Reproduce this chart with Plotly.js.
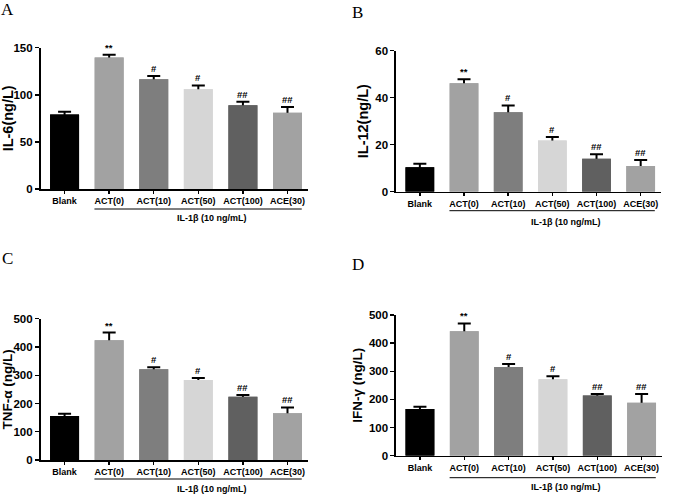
<!DOCTYPE html>
<html>
<head>
<meta charset="utf-8">
<script src="https://cdn.plot.ly/plotly-3.0.1.min.js"></script>
<style>html,body{margin:0;padding:0;background:#fff;}#chart{width:685px;height:494px;}</style>
</head>
<body>
<div id="chart"></div>
<script>
// ---- data ----
const categories = ["Blank", "ACT(0)", "ACT(10)", "ACT(50)", "ACT(100)", "ACE(30)"];
const il6 = [79, 139.5, 116.5, 106, 89, 81];
const il6Err = [3, 3, 3.5, 4, 3.5, 6];
const il12 = [10.4, 46.1, 33.8, 21.8, 14.0, 10.9];
const il12Err = [1.5, 1.8, 2.9, 1.5, 1.9, 2.6];
const tnf = [156, 424, 321, 283, 224, 165];
const tnfErr = [8, 27, 7, 7, 6, 21];
const ifn = [166, 442, 315, 272, 214, 188];
const ifnErr = [8, 28, 11, 10, 5, 31];
const sigLabels = ["", "**", "#", "#", "##", "##"];
const panelLetters = ["A", "B", "C", "D"];
const yTitles = ["IL-6(ng/L)", "IL-12(ng/L)", "TNF-α (ng/L)", "IFN-γ (ng/L)"];
const yMax = [150, 60, 500, 500];
const yDtick = [50, 20, 100, 100];
const groupLabel = "IL-1β (10 ng/mL)";
const unitLabel = "(μM)";

const barColors = ["#000000", "#a2a2a2", "#7e7e7e", "#d6d6d6", "#606060", "#a2a2a2"];
const FONT = "Liberation Sans, Arial, sans-serif";
const bold = t => "<b>" + t + "</b>";

const W = 685, H = 494;
// panel pixel boxes: [left, right, top, bottom]
const boxes = [
  [40.5, 308, 47.7, 189],
  [396, 661, 50.7, 191.7],
  [40.5, 308, 318.7, 460],
  [396, 662, 315, 455.7]
];
const letterPos = [[8, 9], [357, 12], [8, 258], [358, 264]];
const lineOffset = [20, 19, 19, 22];
const textOffset = [29, 30, 29, 31];
const titleSize = [14.5, 14.5, 13.5, 13.5];
const xRange = [-0.54, 5.46];

const series = [[il6, il6Err], [il12, il12Err], [tnf, tnfErr], [ifn, ifnErr]];
const data = [];
const annotations = [];
const shapes = [];
const layout = {
  width: W, height: H,
  margin: {l: 0, r: 0, t: 0, b: 0},
  paper_bgcolor: "#fff", plot_bgcolor: "#fff",
  showlegend: false, barmode: "overlay",
  font: {family: FONT, color: "#000"},
  annotations: annotations,
  shapes: shapes
};

series.forEach((s, i) => {
  const n = i + 1;
  const xa = n === 1 ? "x" : "x" + n;
  const ya = n === 1 ? "y" : "y" + n;
  const xk = n === 1 ? "xaxis" : "xaxis" + n;
  const yk = n === 1 ? "yaxis" : "yaxis" + n;
  const b = boxes[i];
  const idx = categories.map((c, k) => k);
  // bars with symmetric error bars (lower half hidden by the overlaid bar)
  data.push({
    type: "bar", x: idx, y: s[0], xaxis: xa, yaxis: ya,
    width: 0.65, opacity: 1,
    marker: {color: barColors, line: {width: 0}},
    error_y: {type: "data", array: s[1], symmetric: true,
              color: "#000", thickness: 2, width: 6.5},
    hoverinfo: "none"
  });
  data.push({
    type: "bar", x: idx, y: s[0], xaxis: xa, yaxis: ya,
    width: 0.65, opacity: 1,
    marker: {color: barColors, line: {width: 0}},
    hoverinfo: "none"
  });
  const yt = [];
  for (let v = 0; v <= yMax[i]; v += yDtick[i]) yt.push(v);
  layout[xk] = {
    domain: [b[0] / W, b[1] / W], anchor: ya,
    range: xRange, tickmode: "array", tickvals: idx, ticktext: categories.map(bold),
    showline: true, linecolor: "#000", linewidth: 1.6,
    ticks: "outside", ticklen: 3, tickwidth: 1.4, tickcolor: "#000",
    tickfont: {size: 9, family: FONT},
    showgrid: false, zeroline: false, fixedrange: true
  };
  layout[yk] = {
    domain: [1 - b[3] / H, 1 - b[2] / H], anchor: xa,
    range: [0, yMax[i]], tickmode: "array", tickvals: yt, ticktext: yt.map(v => bold(v)),
    showline: true, linecolor: "#000", linewidth: 1.6,
    ticks: "outside", ticklen: 4, tickwidth: 1.4, tickcolor: "#000",
    tickfont: {size: 11.5, family: FONT},
    showgrid: false, zeroline: false, fixedrange: true,
    title: {text: bold(yTitles[i]), font: {size: titleSize[i], family: FONT}, standoff: 3}
  };
  // significance marks
  idx.forEach(k => {
    if (sigLabels[k]) {
      annotations.push({
        xref: xa, yref: ya, x: k, y: s[0][k] + s[1][k],
        text: bold(sigLabels[k]), showarrow: false, yanchor: "bottom", yshift: 0,
        font: {size: 9.5, family: FONT}
      });
    }
  });
  // group bracket line
  const lineY = 1 - (b[3] + lineOffset[i]) / H;
  shapes.push({type: "line", xref: xa, yref: "paper", x0: 0.67, x1: 5.32, y0: lineY, y1: lineY,
               line: {color: "#000", width: 1}});
  annotations.push({
    xref: xa, yref: "paper", x: 3.3, y: 1 - (b[3] + textOffset[i]) / H,
    text: bold(groupLabel), showarrow: false, xanchor: "center", yanchor: "middle",
    font: {size: 9, family: FONT}
  });
  annotations.push({
    xref: xa, yref: "paper", x: 5.77, y: 1 - (b[3] + 10.5) / H,
    text: bold(unitLabel), showarrow: false, xanchor: "center", yanchor: "middle",
    font: {size: 9, family: FONT}
  });
  annotations.push({
    xref: "paper", yref: "paper", x: letterPos[i][0] / W, y: 1 - letterPos[i][1] / H,
    text: panelLetters[i], showarrow: false, xanchor: "center", yanchor: "middle",
    font: {size: 17, family: "Liberation Serif, Times New Roman, serif"}
  });
});

Plotly.newPlot("chart", data, layout, {staticPlot: true, displayModeBar: false});
</script>
</body>
</html>
